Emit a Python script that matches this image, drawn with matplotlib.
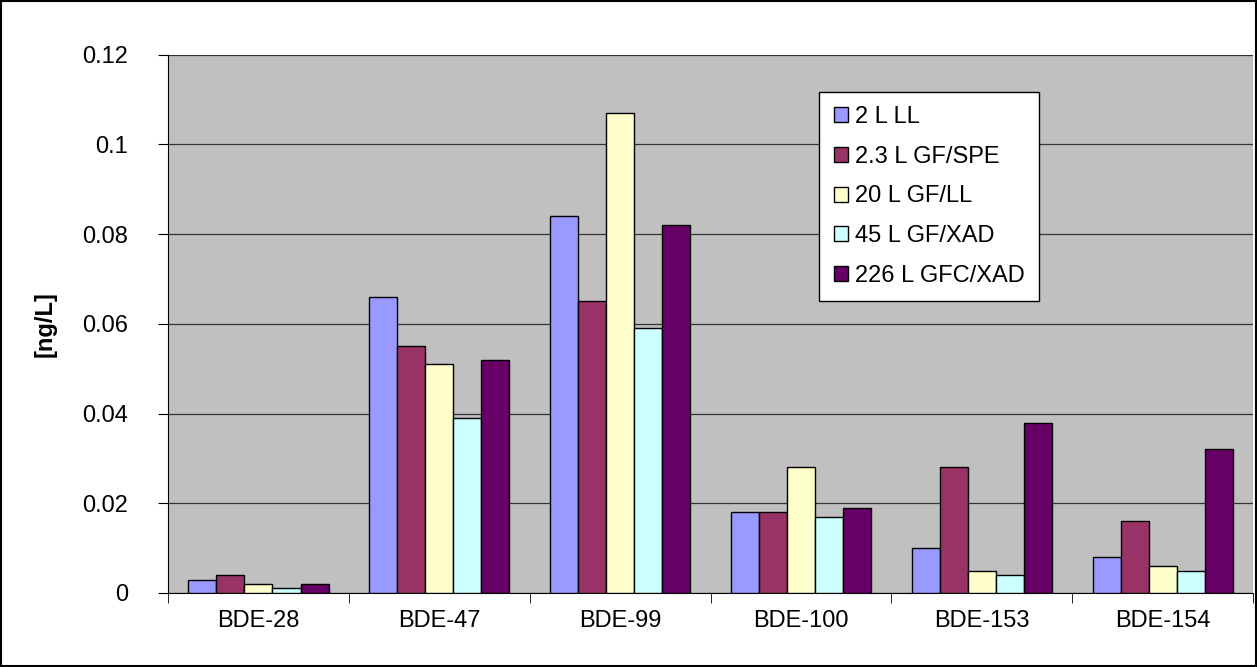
import numpy as np
import matplotlib.pyplot as plt
from matplotlib.patches import Rectangle

plt.rcParams['font.family'] = ['Liberation Sans', 'DejaVu Sans']

categories = ["BDE-28", "BDE-47", "BDE-99", "BDE-100", "BDE-153", "BDE-154"]
series = ["2 L LL", "2.3 L GF/SPE", "20 L GF/LL", "45 L GF/XAD", "226 L GFC/XAD"]
ll2 = [0.003, 0.066, 0.084, 0.018, 0.010, 0.008]
gfspe = [0.004, 0.055, 0.065, 0.018, 0.028, 0.016]
gfll = [0.002, 0.051, 0.107, 0.028, 0.005, 0.006]
gfxad = [0.001, 0.039, 0.059, 0.017, 0.004, 0.005]
gfcxad = [0.002, 0.052, 0.082, 0.019, 0.038, 0.032]
values = [ll2, gfspe, gfll, gfxad, gfcxad]
colors = ["#9999FF", "#993366", "#FFFFCC", "#CCFFFF", "#660066"]

fig = plt.figure(figsize=(12.57, 6.67), dpi=100)
fig.patches.append(Rectangle((0.001, 0.001), 0.998, 0.997, transform=fig.transFigure,
                             fill=False, edgecolor="black", linewidth=1.5))
ax = fig.add_axes([0.1337, 0.111, 0.8632, 0.807])
ax.set_facecolor("#C0C0C0")

x = np.arange(len(categories))
w = 0.155
for i, (name, vals) in enumerate(zip(series, values)):
    ax.bar(x + (i - 2) * w, vals, w, color=colors[i], edgecolor="black",
           linewidth=1.0, label=name, zorder=3)

ax.set_xlim(-0.5, len(categories) - 0.5)
ax.set_ylim(0, 0.12)
ax.set_yticks(np.arange(0, 0.121, 0.02))
ax.set_yticklabels(["0", "0.02", "0.04", "0.06", "0.08", "0.1", "0.12"])
ax.yaxis.grid(True, color="#333333", linewidth=0.9, zorder=0)
ax.set_xticks(x)
ax.set_xticklabels(categories)
ax.set_xticks(np.arange(-0.5, len(categories), 1.0), minor=True)
ax.tick_params(labelsize=17)
ax.tick_params(axis="x", which="major", length=0, pad=12)
ax.tick_params(axis="x", which="minor", length=7, direction="out")
ax.tick_params(axis="y", direction="out", length=7, pad=22)
for s in ["top", "right"]:
    ax.spines[s].set_visible(False)
ax.set_ylabel("[ng/L]", fontsize=17, fontweight="bold", labelpad=18)

leg = ax.legend(loc="upper left", bbox_to_anchor=(0.5895, 0.953), fontsize=17,
                frameon=True, fancybox=False, edgecolor="black", framealpha=1,
                handlelength=0.6, handleheight=0.6, handletextpad=0.3,
                labelspacing=0.75, borderpad=0.6)
leg.get_frame().set_facecolor("white")
leg.get_frame().set_linewidth(1)

fig.savefig("out.png", dpi=100)
